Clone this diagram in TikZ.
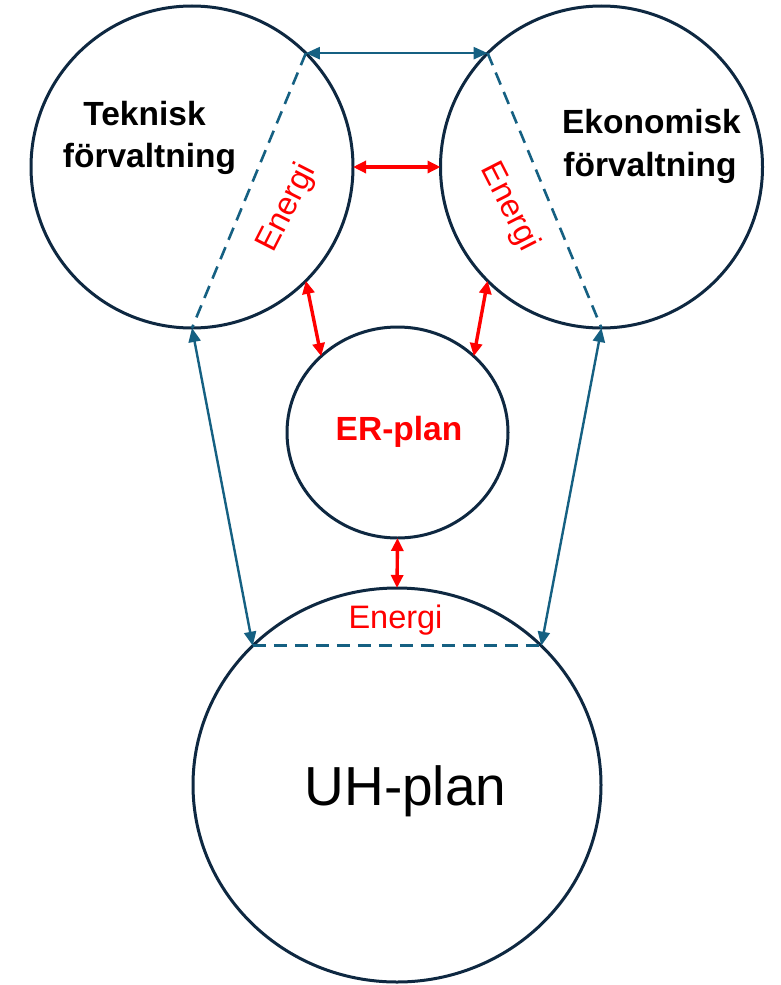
\documentclass[tikz,border=0pt]{standalone}
\usepackage{fontspec}
\setmainfont{Liberation Sans}
\usetikzlibrary{arrows.meta,shapes.geometric}
\definecolor{navy}{HTML}{0E2841}
\definecolor{ablue}{HTML}{156082}
\definecolor{ared}{HTML}{FF0000}
\begin{document}
\begin{tikzpicture}[x=1pt,y=-1pt,
  ring/.style={draw=navy,line width=3pt,circle,inner sep=0pt,outer sep=0pt},
  oval/.style={draw=navy,line width=3pt,ellipse,inner sep=0pt,outer sep=0pt},
  chord/.style={draw=ablue,line width=2.6pt,dash pattern=on 13pt off 8pt},
  barrow/.style={draw=ablue,line width=2.4pt,{Triangle[length=14pt,width=12pt]}-{Triangle[length=14pt,width=12pt]}},
  rarrow/.style={draw=ared,line width=3.4pt,{Triangle[length=13pt,width=12pt]}-{Triangle[length=13pt,width=12pt]}},
  lbl/.style={font=\fontsize{33.5}{40}\selectfont\bfseries,inner sep=0pt},
  elbl/.style={font=\fontsize{32.5}{38}\selectfont,text=ared,inner sep=0pt}]
\useasboundingbox (0,0) rectangle (780,985);
\fill[white] (0,0) rectangle (780,985);
% circles
\node[ring,minimum size=322pt] (L) at (192,167) {};
\node[ring,minimum size=322pt] (R) at (601.5,167) {};
\node[oval,minimum width=221pt,minimum height=211pt] (E) at (397.5,432.5) {};
\node[oval,minimum width=408pt,minimum height=394pt] (U) at (397,785) {};
% dashed chords
\draw[chord] (L.45) -- (L.-90);
\draw[chord] (R.135) -- (R.-90);
\draw[chord] (U.136) -- (U.44);
% blue arrows
\draw[barrow] (L.45) -- (R.135);
\draw[barrow] (L.-90) -- (U.136);
\draw[barrow] (R.-90) -- (U.44);
% red arrows
\draw[rarrow] (L.east) -- (R.west);
\draw[rarrow] (L.-45) -- (E.135);
\draw[rarrow] (R.-135) -- (E.45);
\draw[rarrow] (E.south) -- (U.north);
% texts
\node[lbl,anchor=base] (t1) at (144.5,125) {Teknisk};
\node[lbl,anchor=base] (t2) at (149.5,167) {förvaltning};
\node[lbl,anchor=base] (e1) at (651.5,133) {Ekonomisk};
\node[lbl,anchor=base] (e2) at (650,176) {förvaltning};
\node[elbl,rotate=63] (en1) at (287,208) {Energi};
\node[elbl,rotate=-63] (en2) at (509,207) {Energi};
\node[elbl,anchor=base] (en3) at (395.5,628) {Energi};
\node[lbl,text=ared,anchor=base] (er) at (399,440) {ER-plan};
\node[font=\fontsize{55}{60}\selectfont,inner sep=0pt,anchor=base] (uh) at (405.5,805) {UH-plan};
\end{tikzpicture}
\end{document}
